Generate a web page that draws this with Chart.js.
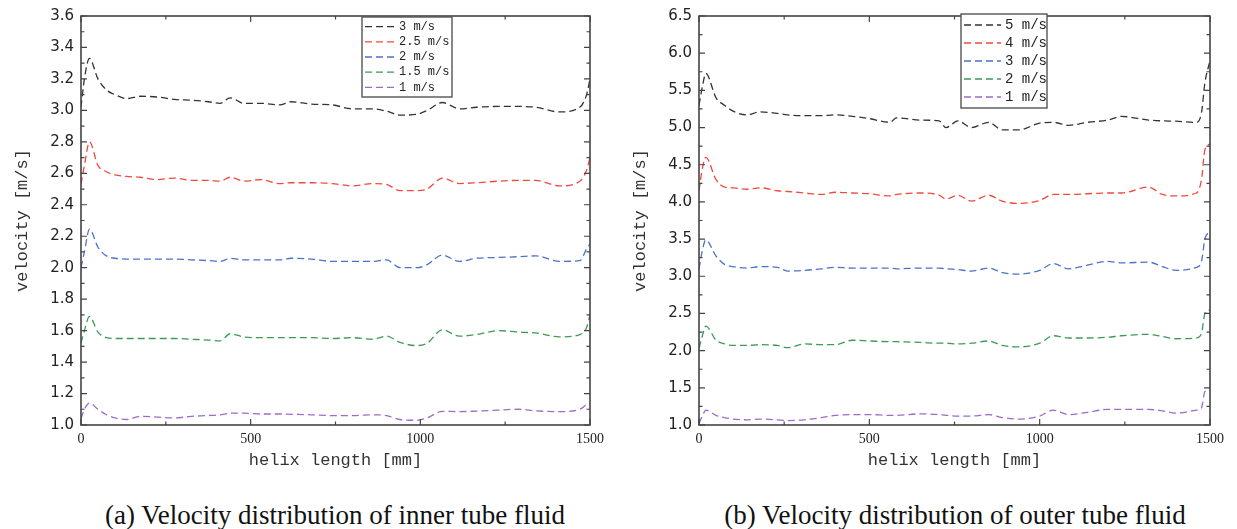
<!DOCTYPE html>
<html>
<head>
<meta charset="utf-8">
<script src="https://cdn.jsdelivr.net/npm/chart.js@4.4.1/dist/chart.umd.min.js"></script>
<style>
  html, body { margin: 0; padding: 0; background: #fff; }
  body { width: 1237px; height: 529px; position: relative; overflow: hidden; }
  .panel { position: absolute; top: 0; height: 490px; }
  #left { left: 0; width: 610px; }
  #right { left: 618px; width: 612px; }
  .caption { position: absolute; top: 499px; width: 670px; text-align: center; white-space: nowrap;
    font-family: "Liberation Serif", serif; font-size: 27px; line-height: 32px; color: #111; }
</style>
</head>
<body>
<div class="panel" id="left"><canvas id="innerChart"></canvas></div>
<div class="panel" id="right"><canvas id="outerChart"></canvas></div>
<div class="caption" style="left:0">(a) Velocity distribution of inner tube fluid</div>
<div class="caption" style="left:620px">(b) Velocity distribution of outer tube fluid</div>

<script>
const innerX = [0, 10, 25, 50, 75, 100, 135, 175, 225, 275, 325, 375, 410, 440, 480, 530, 585, 620, 680, 740,
  800, 860, 900, 940, 990, 1020, 1065, 1115, 1165, 1230, 1290, 1340, 1410, 1470, 1490, 1500]

const inner3 = [3.02, 3.2, 3.33, 3.2, 3.13, 3.1, 3.075, 3.09, 3.085, 3.07, 3.065, 3.055, 3.045, 3.08, 3.045, 3.045,
  3.035, 3.055, 3.04, 3.035, 3.01, 3.01, 2.995, 2.97, 2.975, 3.0, 3.05, 3.01, 3.02, 3.025, 3.025, 3.02, 2.99, 3.02, 3.1, 3.2]
const inner25 = [2.53, 2.65, 2.8, 2.65, 2.61, 2.59, 2.58, 2.575, 2.56, 2.57, 2.555, 2.555, 2.55, 2.575, 2.55, 2.56,
  2.535, 2.54, 2.54, 2.535, 2.52, 2.535, 2.53, 2.49, 2.49, 2.5, 2.57, 2.535, 2.54, 2.55, 2.555, 2.555, 2.52, 2.55, 2.62, 2.7]
const inner2 = [2.0, 2.1, 2.245, 2.13, 2.075, 2.06, 2.055, 2.055, 2.055, 2.055, 2.05, 2.045, 2.04, 2.06, 2.05, 2.05,
  2.05, 2.06, 2.055, 2.04, 2.04, 2.04, 2.05, 2.0, 2.0, 2.02, 2.08, 2.04, 2.06, 2.065, 2.07, 2.075, 2.04, 2.045, 2.12, 2.15]
const inner15 = [1.52, 1.6, 1.69, 1.59, 1.555, 1.55, 1.55, 1.55, 1.55, 1.55, 1.545, 1.54, 1.535, 1.58, 1.56, 1.555,
  1.555, 1.555, 1.555, 1.55, 1.555, 1.545, 1.565, 1.525, 1.505, 1.52, 1.605, 1.565, 1.575, 1.6, 1.59, 1.585, 1.56, 1.575, 1.62, 1.7]
const inner1 = [1.04, 1.1, 1.14, 1.1, 1.065, 1.045, 1.035, 1.055, 1.05, 1.045, 1.055, 1.06, 1.065, 1.075, 1.075, 1.07,
  1.07, 1.068, 1.065, 1.06, 1.06, 1.065, 1.06, 1.035, 1.03, 1.045, 1.087, 1.085, 1.088, 1.095, 1.1, 1.09, 1.085, 1.1, 1.13, 1.14]

const outerX = [0, 10, 20, 50, 75, 100, 140, 180, 230, 260, 310, 360, 400, 450, 500, 560, 580, 650, 705, 725,
  760, 800, 850, 890, 940, 1000, 1040, 1085, 1140, 1200, 1240, 1320, 1360, 1400, 1460, 1475, 1485, 1500]

const outer5 = [5.3, 5.55, 5.73, 5.4, 5.3, 5.22, 5.17, 5.21, 5.19, 5.17, 5.16, 5.16, 5.17, 5.15, 5.12, 5.07, 5.13, 5.1, 5.09,
  5.0, 5.09, 5.0, 5.07, 4.97, 4.97, 5.06, 5.07, 5.03, 5.07, 5.1, 5.15, 5.1, 5.09, 5.085, 5.07, 5.2, 5.6, 5.9]
const outer4 = [4.15, 4.45, 4.6, 4.3, 4.2, 4.19, 4.17, 4.19, 4.15, 4.14, 4.12, 4.1, 4.13, 4.12, 4.11, 4.08, 4.1, 4.12, 4.09,
  4.04, 4.09, 4.01, 4.09, 4.01, 3.98, 4.02, 4.1, 4.1, 4.11, 4.12, 4.12, 4.2, 4.1, 4.08, 4.12, 4.3, 4.7, 4.78]
const outer3 = [3.1, 3.35, 3.49, 3.27, 3.16, 3.13, 3.11, 3.13, 3.12, 3.07, 3.08, 3.1, 3.12, 3.11, 3.11, 3.11, 3.1, 3.11, 3.11,
  3.1, 3.09, 3.07, 3.11, 3.05, 3.03, 3.08, 3.17, 3.1, 3.15, 3.2, 3.18, 3.19, 3.13, 3.08, 3.12, 3.2, 3.5, 3.6]
const outer2 = [2.03, 2.2, 2.33, 2.14, 2.09, 2.07, 2.07, 2.08, 2.07, 2.04, 2.09, 2.08, 2.08, 2.14, 2.13, 2.12, 2.12, 2.11, 2.1,
  2.1, 2.09, 2.1, 2.13, 2.07, 2.05, 2.1, 2.2, 2.17, 2.17, 2.18, 2.2, 2.22, 2.19, 2.16, 2.17, 2.23, 2.5, 2.55]
const outer1 = [1.02, 1.12, 1.2, 1.13, 1.1, 1.08, 1.07, 1.08, 1.07, 1.06, 1.07, 1.1, 1.13, 1.14, 1.14, 1.13, 1.13, 1.15, 1.14,
  1.13, 1.12, 1.12, 1.14, 1.1, 1.08, 1.12, 1.2, 1.14, 1.17, 1.21, 1.21, 1.21, 1.19, 1.16, 1.2, 1.23, 1.45, 1.47]

const innerLabels = ['3 m/s', '2.5 m/s', '2 m/s', '1.5 m/s', '1 m/s']
const outerLabels = ['5 m/s', '4 m/s', '3 m/s', '2 m/s', '1 m/s']
const lineColors = ['#333333', '#f2493d', '#4a72c9', '#3d9a55', '#9b6cc8']

const toPoints = (xs, ys) => xs.map((x, i) => ({ x, y: ys[i] }))

const makeSets = (xs, rows, labels) => rows.map((ys, i) => ({
  label: labels[i],
  data: toPoints(xs, ys),
  borderColor: lineColors[i],
  borderWidth: 1.3,
  borderDash: [7, 4],
  pointRadius: 0,
  cubicInterpolationMode: 'monotone',
  fill: false,
}))

// box frame with inward ticks (major + minor) on all four sides
const framePlugin = {
  id: 'frame',
  afterDraw (chart) {
    const { ctx, chartArea: a, scales: { x, y } } = chart
    ctx.save()
    ctx.strokeStyle = '#444'
    ctx.lineWidth = 1.6
    ctx.strokeRect(a.left, a.top, a.right - a.left, a.bottom - a.top)
    ctx.lineWidth = 1.2
    const withMinor = scale => {
      const vals = scale.ticks.map(t => t.value)
      const out = []
      vals.forEach((v, i) => {
        out.push([v, 6])
        if (i < vals.length - 1) out.push([(v + vals[i + 1]) / 2, 3.5])
      })
      return out
    }
    ctx.beginPath()
    withMinor(x).forEach(([v, len]) => {
      const px = x.getPixelForValue(v)
      ctx.moveTo(px, a.bottom); ctx.lineTo(px, a.bottom - len)
      ctx.moveTo(px, a.top); ctx.lineTo(px, a.top + len)
    })
    withMinor(y).forEach(([v, len]) => {
      const py = y.getPixelForValue(v)
      ctx.moveTo(a.left, py); ctx.lineTo(a.left + len, py)
      ctx.moveTo(a.right, py); ctx.lineTo(a.right - len, py)
    })
    ctx.stroke()
    ctx.restore()
  }
}

// framed legend sitting inside the plot
const boxLegend = {
  id: 'boxLegend',
  afterDraw (chart, args, o) {
    const { ctx } = chart
    const sets = chart.data.datasets
    const h = sets.length * o.rowHeight + 4
    ctx.save()
    ctx.fillStyle = '#fff'
    ctx.fillRect(o.left, o.top, o.width, h)
    ctx.strokeStyle = '#555'
    ctx.lineWidth = 1.4
    ctx.strokeRect(o.left, o.top, o.width, h)
    sets.forEach((ds, i) => {
      const yy = o.top + 2 + o.rowHeight * (i + 0.5)
      ctx.setLineDash([7, 4])
      ctx.strokeStyle = ds.borderColor
      ctx.lineWidth = 1.3
      ctx.beginPath()
      ctx.moveTo(o.left + 3, yy)
      ctx.lineTo(o.left + 3 + o.sample, yy)
      ctx.stroke()
      ctx.setLineDash([])
      ctx.fillStyle = '#222'
      ctx.font = o.font
      ctx.textBaseline = 'middle'
      ctx.fillText(ds.label, o.left + o.sample + 7, yy)
    })
    ctx.restore()
  }
}

const tickFontY = { family: '"DejaVu Sans"', size: 15 }
const tickFontX = { family: '"Liberation Serif"', size: 14 }
const titleFont = { family: '"Liberation Mono"', size: 17 }

const makeChart = (id, xs, rows, labels, yMin, yMax, yStep, legend, padTop) => new Chart(document.getElementById(id), {
  type: 'line',
  data: { datasets: makeSets(xs, rows, labels) },
  options: {
    responsive: true,
    maintainAspectRatio: false,
    animation: false,
    layout: { padding: { top: padTop, right: 19, left: 0, bottom: 0 } },
    plugins: { legend: { display: false }, tooltip: { enabled: false }, boxLegend: legend },
    scales: {
      x: {
        type: 'linear', min: 0, max: 1500,
        grid: { display: false, drawTicks: false },
        border: { display: false },
        ticks: { stepSize: 500, padding: 6, color: '#222', font: tickFontX, maxRotation: 0, callback: v => String(v) },
        title: { display: true, text: 'helix length [mm]', color: '#333', font: titleFont, padding: { top: 0, bottom: 19 } },
        afterFit: s => { s.height = 65 },
      },
      y: {
        min: yMin, max: yMax,
        grid: { display: false, drawTicks: false },
        border: { display: false },
        ticks: { stepSize: yStep, padding: 7, color: '#222', font: tickFontY, callback: v => v.toFixed(1) },
        title: { display: true, text: 'velocity [m/s]', color: '#333', font: titleFont, padding: { top: 12, bottom: 0 } },
        afterFit: s => { s.width = 81 },
      },
    },
  },
  plugins: [framePlugin, boxLegend],
})

makeChart('innerChart', innerX, [inner3, inner25, inner2, inner15, inner1], innerLabels, 1.0, 3.6, 0.2,
  { left: 362, top: 17, width: 90, rowHeight: 15.2, sample: 30, font: '12px "Liberation Mono"' }, 14)

makeChart('outerChart', outerX, [outer5, outer4, outer3, outer2, outer1], outerLabels, 1.0, 6.5, 0.5,
  { left: 343, top: 14, width: 86, rowHeight: 18, sample: 37, font: '14px "Liberation Mono"' }, 13)
</script>
</body>
</html>
